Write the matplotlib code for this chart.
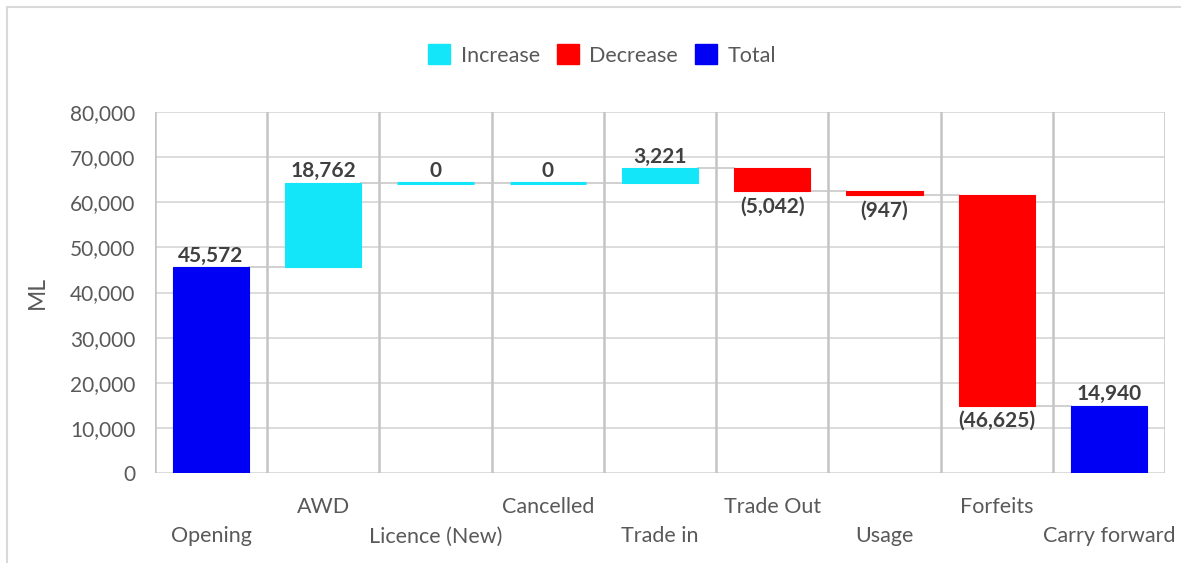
import matplotlib
matplotlib.use("Agg")
import matplotlib.pyplot as plt
from matplotlib.patches import Patch, Rectangle
from matplotlib.ticker import FuncFormatter, MultipleLocator

categories = ["Opening", "AWD", "Licence (New)", "Cancelled", "Trade in",
              "Trade Out", "Usage", "Forfeits", "Carry forward"]
changes = [45572, 18762, 0, 0, 3221, -5042, -947, -46625, 14940]
kinds = ["total", "inc", "inc", "inc", "inc", "dec", "dec", "dec", "total"]
legend_labels = ["Increase", "Decrease", "Total"]

colors = {"inc": "#14e6fa", "dec": "#ff0000", "total": "#0000f5"}

plt.rcParams['font.family'] = ['Lato', 'DejaVu Sans']

fig = plt.figure(figsize=(11.81, 5.63), dpi=100)
ax = fig.add_axes([155/1181, 1-473/563, (1165-155)/1181, (473-112)/563])

# figure frame
fig.patches.append(Rectangle((7/1181, -0.1), 1.2, 1-7/563+0.1, transform=fig.transFigure,
                             fill=False, edgecolor="#d9d9d9", linewidth=1.5, zorder=0))

bw = 0.68
level = 0
bottoms, heights, tops = [], [], []
for v, k in zip(changes, kinds):
    if k == "total":
        b, h = 0, v
        level = v
    else:
        b = level if v >= 0 else level + v
        h = abs(v)
        level = level + v
    bottoms.append(b)
    heights.append(h)
    tops.append(level)

x = list(range(len(categories)))
for i, (b, h, k) in enumerate(zip(bottoms, heights, kinds)):
    lw = 2.2 if h == 0 else 0.8
    ax.bar(i, h, bottom=b, width=bw, color=colors[k], edgecolor=colors[k],
           linewidth=lw, zorder=3)

# connectors
for i in range(len(categories)-1):
    lvl = tops[i]
    ax.plot([i + bw/2, i + 1 - bw/2], [lvl, lvl], color="#c8c8c8", lw=1.2, zorder=2)

# data labels
for i, (b, h, k, v) in enumerate(zip(bottoms, heights, kinds, changes)):
    if v < 0:
        txt = "({:,})".format(-v)
        ax.annotate(txt, (i, b), xytext=(0, -4), textcoords="offset points",
                    ha="center", va="top", fontsize=15, fontweight="bold", color="#404040")
    else:
        txt = "{:,}".format(v)
        ax.annotate(txt, (i, b + h), xytext=(0, 1), textcoords="offset points",
                    ha="center", va="bottom", fontsize=15, fontweight="bold", color="#404040")

ax.set_xlim(-0.5, len(categories) - 0.5)
ax.set_ylim(0, 80000)
ax.yaxis.set_major_locator(MultipleLocator(10000))
ax.yaxis.set_major_formatter(FuncFormatter(lambda v, p: "{:,.0f}".format(v)))
ax.grid(axis="y", color="#d9d9d9", lw=1.3, zorder=0)
ax.set_axisbelow(True)
for bnd in range(len(categories) + 1):
    ax.axvline(bnd - 0.5, color="#c4c4c4", lw=1.8, zorder=1)

ax.set_xticks(x)
ax.set_xticklabels(categories, fontsize=15.5, color="#595959")
for i, t in enumerate(ax.xaxis.get_major_ticks()):
    t.set_pad(17 if i % 2 == 1 else 38.5)
ax.tick_params(axis="x", length=0)
ax.tick_params(axis="y", length=0, labelsize=15, labelcolor="#595959", pad=14)
for s in ax.spines.values():
    s.set_visible(False)
ax.set_ylabel("ML", fontsize=16.5, color="#595959", labelpad=16)

handles = [Patch(facecolor=colors[k], edgecolor=colors[k]) for k in ["inc", "dec", "total"]]
fig.legend(handles, legend_labels, loc="center", bbox_to_anchor=(0.51, 1-55/563), ncol=3,
           frameon=False, fontsize=15.5, handlelength=1.0, handleheight=1.0,
           columnspacing=0.8, handletextpad=0.5, labelcolor="#595959")

fig.savefig("out.png", dpi=100)
